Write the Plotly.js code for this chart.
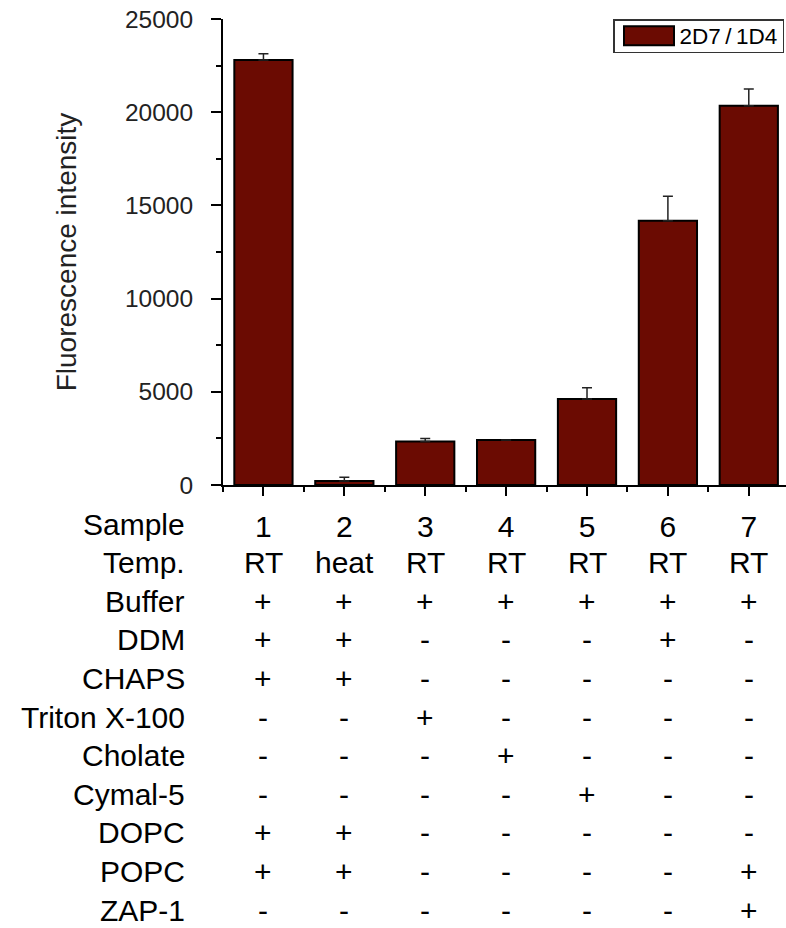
<!DOCTYPE html>
<html>
<head>
<meta charset="utf-8">
<script src="https://cdn.plot.ly/plotly-3.0.1.min.js"></script>
<style>
  html, body { margin: 0; padding: 0; background: #fff; }
  #chart { width: 786px; height: 928px; }
</style>
</head>
<body>
<div id="chart"></div>
<script>
// ---- data ----
const samples = ['1', '2', '3', '4', '5', '6', '7'];
const intensity = [22800, 220, 2330, 2410, 4620, 14170, 20340];
const errUp = [330, 200, 170, 0, 600, 1320, 900];
const seriesName = '2D7\u2009/\u20091D4';

const rowLabels = ['Temp.', 'Buffer', 'DDM', 'CHAPS', 'Triton X-100', 'Cholate', 'Cymal-5', 'DOPC', 'POPC', 'ZAP-1'];
const temp    = ['RT', 'heat', 'RT', 'RT', 'RT', 'RT', 'RT'];
const buffer  = ['+', '+', '+', '+', '+', '+', '+'];
const ddm     = ['+', '+', '-', '-', '-', '+', '-'];
const chaps   = ['+', '+', '-', '-', '-', '-', '-'];
const triton  = ['-', '-', '+', '-', '-', '-', '-'];
const cholate = ['-', '-', '-', '+', '-', '-', '-'];
const cymal5  = ['-', '-', '-', '-', '+', '-', '-'];
const dopc    = ['+', '+', '-', '-', '-', '-', '-'];
const popc    = ['+', '+', '-', '-', '-', '-', '+'];
const zap1    = ['-', '-', '-', '-', '-', '-', '+'];
const tableRows = [temp, buffer, ddm, chaps, triton, cholate, cymal5, dopc, popc, zap1];

// ---- layout constants ----
const FONT = 'Liberation Sans, Arial, Helvetica, sans-serif';
const W = 786, H = 928;
const PLOT_TOP = 19, PLOT_BOTTOM = 485, PLOT_LEFT = 223;
const PLOT_H = PLOT_BOTTOM - PLOT_TOP;
const ROW0_Y = 524, ROW_STEP = 38.6;
const TABLE_FS = 30;
const pyToPaper = py => (PLOT_BOTTOM - py) / PLOT_H;
const pxToPaper = px => (px - PLOT_LEFT) / (W - PLOT_LEFT);

const xIdx = samples.map((s, i) => i);
const BAR_COLOR = '#6b0b02';

const trace = {
  type: 'bar',
  name: seriesName,
  x: xIdx,
  y: intensity,
  width: 0.72,
  marker: { color: BAR_COLOR, line: { color: '#000', width: 2 } },
  error_y: {
    type: 'data', symmetric: false,
    array: errUp, arrayminus: errUp.map(() => 0),
    color: '#222', thickness: 1.5, width: 5
  },
  showlegend: true
};

const annotations = [];
annotations.push({
  xref: 'paper', yref: 'paper', x: pxToPaper(187), y: pyToPaper(ROW0_Y),
  xanchor: 'right', yanchor: 'middle', showarrow: false,
  text: 'Sample', font: { family: FONT, size: TABLE_FS, color: '#000' }
});
rowLabels.forEach((lab, r) => {
  const py = ROW0_Y + (r + 1) * ROW_STEP;
  annotations.push({
    xref: 'paper', yref: 'paper', x: pxToPaper(187), y: pyToPaper(py),
    xanchor: 'right', yanchor: 'middle', showarrow: false,
    text: lab, font: { family: FONT, size: TABLE_FS, color: '#000' }
  });
  tableRows[r].forEach((v, c) => {
    annotations.push({
      xref: 'x', yref: 'paper', x: xIdx[c], y: pyToPaper(py),
      xanchor: 'center', yanchor: 'middle', showarrow: false,
      text: v, font: { family: FONT, size: TABLE_FS, color: '#000' }
    });
  });
});

const layout = {
  width: W, height: H,
  margin: { l: PLOT_LEFT, r: 0, t: PLOT_TOP, b: H - PLOT_BOTTOM, pad: 0 },
  paper_bgcolor: '#fff', plot_bgcolor: '#fff',
  font: { family: FONT, color: '#000' },
  showlegend: true,
  legend: {
    x: pxToPaper(784), xanchor: 'right', y: 1.0, yanchor: 'top',
    bordercolor: '#333', borderwidth: 1.5, bgcolor: '#fff',
    itemwidth: 55,
    font: { family: FONT, size: 22.5, color: '#000' }
  },
  xaxis: {
    type: 'linear', range: [-0.5, 6.46], fixedrange: true,
    tickvals: xIdx, ticktext: samples,
    ticks: 'outside', ticklen: 9, tickwidth: 2, tickcolor: '#000',
    ticklabelstandoff: 5,
    minor: { tickvals: [-0.5, 0.5, 1.5, 2.5, 3.5, 4.5, 5.5], ticks: 'outside', ticklen: 5, tickwidth: 2, tickcolor: '#000' },
    tickfont: { family: FONT, size: TABLE_FS, color: '#000' },
    showline: true, linecolor: '#000', linewidth: 2,
    showgrid: false, zeroline: false
  },
  yaxis: {
    range: [0, 25000], fixedrange: true,
    tickvals: [0, 5000, 10000, 15000, 20000, 25000],
    ticktext: ['0', '5000', '10000', '15000', '20000', '25000'],
    ticks: 'outside', ticklen: 10, tickwidth: 2, tickcolor: '#000',
    ticklabelstandoff: 13,
    minor: { dtick: 2500, ticks: 'outside', ticklen: 5, tickwidth: 2, tickcolor: '#000' },
    tickfont: { family: FONT, size: 24.5, color: '#222' },
    showline: true, linecolor: '#000', linewidth: 2,
    showgrid: false, zeroline: false,
    title: { text: 'Fluorescence intensity', standoff: 40, font: { family: FONT, size: 28, color: '#222' } }
  },
  annotations: annotations
};

Plotly.newPlot('chart', [trace], layout, { displayModeBar: false, staticPlot: true }).then(gd => {
  // widen the legend swatch to match the wide bar swatch of the original
  gd.querySelectorAll('.legend .legendpoints path').forEach(p => {
    p.setAttribute('d', 'M27,9.5H-23V-9.5H27Z');
  });
  // tighten the legend box vertically (original box is ~31px tall)
  const leg = gd.querySelector('g.legend');
  const bg = leg && leg.querySelector('rect.bg');
  if (bg) {
    const shrink = 12;
    const y0 = parseFloat(bg.getAttribute('y') || '0');
    const h0 = parseFloat(bg.getAttribute('height') || '0');
    if (h0 > shrink + 10) {
      bg.setAttribute('y', y0 + shrink / 2);
      bg.setAttribute('height', h0 - shrink);
      const m = /translate\(\s*([-\d.eE]+)[ ,]+([-\d.eE]+)\s*\)/.exec(leg.getAttribute('transform') || '');
      if (m) leg.setAttribute('transform', 'translate(' + m[1] + ',' + (parseFloat(m[2]) - shrink / 2) + ')');
    }
  }
});
</script>
</body>
</html>
